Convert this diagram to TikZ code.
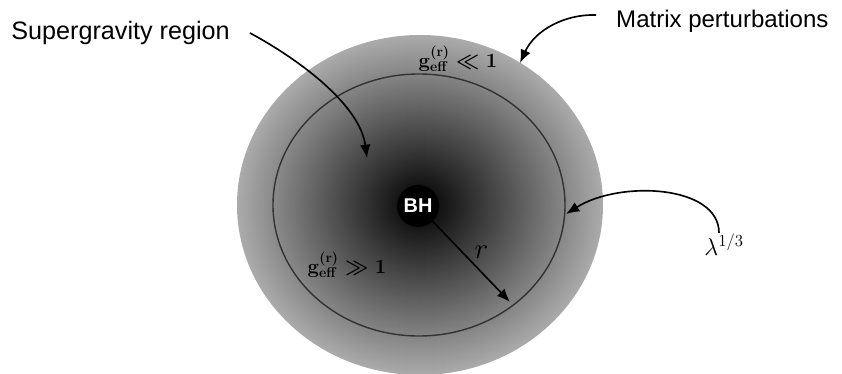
\documentclass[tikz,border=0pt]{standalone}
\usepackage{fontspec}
\setsansfont{Liberation Sans}
\usetikzlibrary{arrows.meta,calc}
\pgfdeclareradialshading{bhglow}{\pgfpoint{0bp}{0bp}}{color(0bp)=(black); color(25bp)=(black!33); color(50bp)=(black!33)}
\tikzset{
    callout/.style={font=\sffamily\fontsize{21.5}{26}\selectfont, inner xsep=0.6cm, inner ysep=2pt},
    coupling/.style={font={\fontsize{17}{20}\selectfont\boldmath}, inner sep=1pt},
    bhnode/.style={circle, fill=black, text=white, minimum size=1.26cm, inner sep=0pt, font=\sffamily\bfseries\fontsize{17}{20}\selectfont},
    curvearr/.style={-{Latex[length=4mm,width=3.2mm]}, line width=1.4pt},
    horizon/.style={draw=black!80, line width=1.2pt},
}
\begin{document}
\begin{tikzpicture}[x=0.03cm, y=-0.03cm]
\useasboundingbox (0,0) rectangle (842,374);
\shade[shading=bhglow] (420,205) ellipse [x radius=183, y radius=170];
\draw[horizon] (419,205) ellipse [x radius=146, y radius=131];

\node[bhnode] (bh) at (418,206) {BH};
\node[coupling] (gsmall) at (458,59) {$\mathbf{g}^{\mathbf{(r)}}_{\mathbf{eff}}\ll\mathbf{1}$};
\node[coupling] (glarge) at (347,265) {$\mathbf{g}^{\mathbf{(r)}}_{\mathbf{eff}}\gg\mathbf{1}$};
\node[callout, anchor=east] (sugra) at (250,33) {Supergravity region};
\node[callout, anchor=west, font=\sffamily\fontsize{20.5}{25}\selectfont] (matrix) at (596,21) {Matrix perturbations};
\node[inner sep=1pt, font=\fontsize{22}{26}\selectfont] (lam) at (724,245) {$\lambda^{1/3}$};

\coordinate (sgtip) at (367,158);
\coordinate (mptip) at (520,63);
\coordinate (lamtip) at (566,214);
\coordinate (rtip) at (510,302);

\draw[curvearr] (sugra.east) .. controls (300,60) and (360,105) .. (sgtip);
\draw[curvearr] ([yshift=0.18cm]matrix.west) .. controls (565,14) and (535,30) .. (mptip);
\draw[curvearr] ($(lam.north)+(-5,0)$) .. controls (719,185) and (620,180) .. (lamtip);
\draw[curvearr] (bh) -- (rtip) node[midway, above right, inner sep=2pt, font=\fontsize{24}{28}\selectfont] (rlab) {$r$};
\end{tikzpicture}
\end{document}
